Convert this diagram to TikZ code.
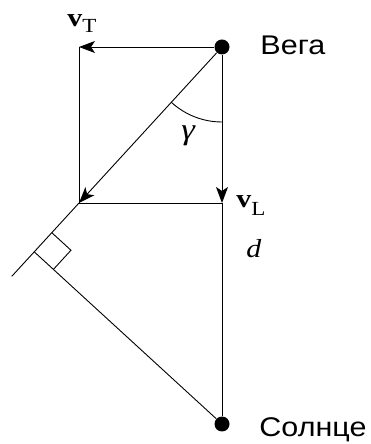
\documentclass[tikz,border=0pt]{standalone}
\usepackage{fontspec}
\setmainfont[FakeStretch=1.15]{Liberation Serif}
\newfontfamily\starfont[FakeStretch=1.13]{Liberation Sans}
\usetikzlibrary{arrows.meta, calc, positioning}

\begin{document}
\begin{tikzpicture}[x=1pt, y=1pt, line width=0.9pt,
    star/.style={circle, fill=black, inner sep=0pt, minimum size=15pt},
    vec/.style={-{Stealth[length=16pt, width=12pt, inset=4pt]}},
    starname/.style={anchor=base west, inner sep=0pt, font=\starfont\fontsize{27}{32}\selectfont},
    sym/.style={anchor=base west, inner sep=0pt, font=\fontsize{26}{31}\selectfont}]
    \useasboundingbox (0,0) rectangle (370,444);

    % Stars
    \node[star] (vega) at (222,397) {};
    \node[star] (sun) at (222,20) {};
    \node[starname] (veganame) at (260,389) {Вега};
    \node[starname] (sunname) at (259,7) {Солнце};

    % Velocity components
    \coordinate (tl) at (79,397);
    \coordinate (bl) at (79,241);
    \coordinate (br) at (222,241);
    \draw[vec] (vega) -- (tl);
    \draw[vec] (vega) -- (br);
    \draw[vec] (vega) -- (bl);
    \draw (tl) -- (bl) -- (br) -- (sun);

    % Line of motion and perpendicular from the Sun
    \coordinate (tail) at ($(vega)!1.47!(bl)$);
    \coordinate (foot) at ($(vega)!(sun)!(bl)$);
    \draw (bl) -- (tail);
    \draw (sun) -- (foot);
    \coordinate (ra) at ($(foot)!26pt!(vega)$);
    \coordinate (rc) at ($(foot)!26pt!(sun)$);
    \draw (ra) -- ($(ra)+(rc)-(foot)$) -- (rc);

    % Angle gamma
    \draw ([shift={(270:75)}]vega.center) arc[start angle=270, end angle=227.5, radius=75];

    % Labels
    \node[sym] (vt) at (67,417) {\textbf{v}\raisebox{-6pt}{\fontsize{20}{22}\selectfont T}};
    \node[sym] (vl) at (236,236) {\textbf{v}\raisebox{-8pt}{\fontsize{20}{22}\selectfont L}};
    \node[sym] (dist) at (246,186) {\textit{d}};
    \node[sym, font=\fontsize{30}{34}\selectfont] (gamma) at (181,304) {\textit{γ}};
\end{tikzpicture}
\end{document}
